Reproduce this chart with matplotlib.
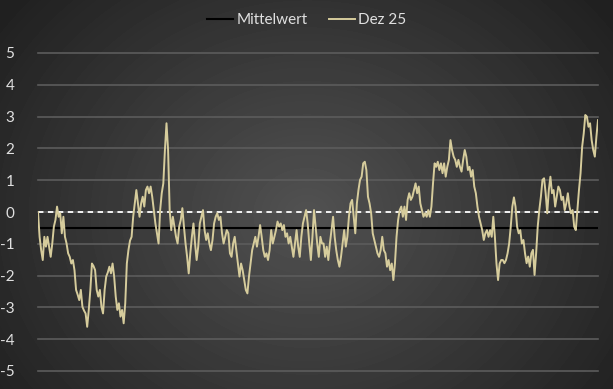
import numpy as np
import matplotlib
matplotlib.use("Agg")
import matplotlib.pyplot as plt

seg_a = [0.0, -0.78, -1.2, -1.51, -0.78, -1.09, -0.78, -1.1, -1.41, -0.99, -0.46, -0.25, 0.17,
         -0.15, -0.04, -0.67, -0.15, -0.78, -0.99, -1.30, -1.41, -1.62, -1.51, -1.83, -2.45,
         -2.6, -2.77, -2.45, -2.98, -3.1, -3.19, -3.61, -3.08, -2.45, -1.62, -1.7, -1.83, -2.45,
         -2.66, -2.45, -2.98, -3.19, -2.45, -2.03, -1.9, -1.72, -1.93, -1.62, -2.03, -2.66,
         -3.08, -2.87, -3.29, -3.08, -3.50, -2.87, -1.62, -1.20, -0.9, -0.78, -0.15, 0.27]
seg_b = [0.69, 0.27, -0.15, 0.27, 0.48, 0.17, 0.69, 0.80, 0.59, 0.80, 0.48, 0.06, -0.36, -0.67,
         -0.99, 0.06, 0.59, 0.90, 1.95, 2.79, 1.95, 0.06, -0.57, -0.15, -0.46, -0.78, -0.99,
         -0.46, -0.25, 0.12, -0.46, -0.99, -1.41, -1.93, -1.30, -0.78, -0.36, -0.99, -1.51,
         -1.09, -0.36, -0.15, 0.06, -0.57, -0.88, -0.67, -0.99, -1.20, -0.88, -0.36, -0.15,
         -0.04, -0.25, -0.15, -0.67, -0.99, -0.78, -0.57, -0.67]
seg_c = [-1.30, -1.41, -0.99, -0.78, -1.20, -1.62, -2.03, -1.62, -1.83, -2.14, -2.45, -2.56,
         -2.03, -1.62, -1.20, -0.99, -0.78, -1.09, -0.78, -0.41, -0.78, -1.20, -1.41, -1.30,
         -1.51, -1.20, -0.57, -0.99, -0.78, -0.57, -0.30, -0.46, -0.36, -0.57, -0.41, -0.78,
         -0.67, -0.99, -0.78, -1.09, -1.41, -0.99, -0.57, -1.09, -1.41, -0.78, -0.36, -0.15,
         0.06, -0.36, -0.99, -1.51, -0.78, 0.06, -0.46, -0.99, -1.41, -0.78, -0.99]
seg_d = [-0.99, -1.41, -1.09, -1.51, -0.99, -0.57, -0.15, -0.78, -1.20, -1.51, -1.72, -1.41,
         -0.99, -0.57, -1.09, -0.78, -0.15, 0.27, 0.38, -0.15, -0.67, 0.27, 0.69, 1.01, 1.11,
         1.53, 1.58, 1.32, 0.48, 0.27, -0.04, -0.67, -0.88, -1.09, -1.30, -1.41, -1.20, -0.78,
         -1.20, -1.30, -1.72, -1.51, -1.83, -1.62, -2.14, -1.62, -0.78, -0.25, 0.06, 0.17,
         -0.15, 0.17, -0.25, 0.38, 0.59, 0.38, 0.48, 0.69, 0.90, 0.59, 0.80]
seg_e = [0.27, 0.06, -0.15, -0.04, -0.15, 0.06, -0.15, 0.17, 0.90, 1.53, 1.42, 1.58, 1.32,
         1.53, 1.22, 1.53, 1.11, 1.42, 1.64, 2.26, 1.95, 1.74, 1.64, 1.42, 1.64, 1.42, 1.27,
         1.64, 1.95, 1.74, 1.32, 1.42, 1.11, 1.32, 0.80, 0.59, 0.17, -0.15, -0.36, -0.57,
         -0.88, -0.67, -0.57, -0.78, -0.57, -0.78, -0.15, -0.78, -1.62, -2.14, -1.62, -1.51]
seg_f = [-1.51, -1.61, -1.51, -1.30, -0.99, -0.46, 0.17, 0.46, 0.17, -0.46, -0.67, -0.57,
         -0.99, -0.88, -1.30, -1.61, -1.40, -1.72, -1.30, -1.19, -1.98, -1.30, -0.46, 0.06,
         0.48, 1.01, 1.06, 0.59, -0.04, 0.69, 1.11, 0.59, 0.69, 0.17, 0.48, 0.80, 0.69, 0.38,
         0.48, 0.06, 0.27, 0.59, 0.17, -0.04, 0.06, -0.46, -0.57, 0.06, 0.69, 1.22, 2.05,
         2.47, 3.05, 3.0, 2.68, 2.79, 2.26, 1.95, 1.74, 2.37, 2.89]
dez25 = seg_a + seg_b + seg_c + seg_d + seg_e + seg_f
mittelwert = -0.5
y_ticks = [-5, -4, -3, -2, -1, 0, 1, 2, 3, 4, 5]

W, H = 613, 389
fig = plt.figure(figsize=(W / 100, H / 100), dpi=100)

# radialer Hintergrund
bg = fig.add_axes([0, 0, 1, 1], zorder=-10)
yy, xx = np.mgrid[0:H, 0:W]
r = np.sqrt(((xx - W * 0.5) / (W * 0.55)) ** 2 + ((yy - H * 0.55) / (H * 0.75)) ** 2)
shade = np.clip(0.32 - 0.17 * r, 0.13, 0.32)
bg.imshow(shade, cmap="gray", vmin=0, vmax=1, aspect="auto", interpolation="bilinear")
bg.axis("off")

ax = fig.add_axes([38 / W, 1 - 371 / H, 560 / W, 318 / H])
ax.patch.set_alpha(0)
x = np.arange(len(dez25))
ax.set_xlim(0, len(dez25) - 1)
ax.set_ylim(-5, 5)

for t in y_ticks:
    ax.axhline(t, color="#5c5c5c", lw=1.2, zorder=0, clip_on=False)

ax.axhline(0, color="white", lw=1.3, ls=(0, (3, 2.5)), zorder=2)
ax.plot(x, [mittelwert] * len(x), color="black", lw=1.5, label="Mittelwert", zorder=3)
ax.plot(x, dez25, color="#d6cc9c", lw=1.4, label="Dez 25", zorder=4)

ax.set_yticks(y_ticks)
ax.set_yticklabels([str(t) for t in y_ticks], family="Lato", fontsize=11, color="#e0e0e0")
ax.tick_params(axis="y", length=0, pad=17)
ax.set_xticks([])
for s in ax.spines.values():
    s.set_visible(False)

leg = fig.legend(loc="center", bbox_to_anchor=(0.5, 1 - 20 / H), ncol=2, frameon=False,
                 prop={"family": "Lato", "size": 11}, handlelength=1.7, handletextpad=0.2,
                 columnspacing=1.4)
for t in leg.get_texts():
    t.set_color("#e0e0e0")

fig.savefig("out.png", dpi=100)
